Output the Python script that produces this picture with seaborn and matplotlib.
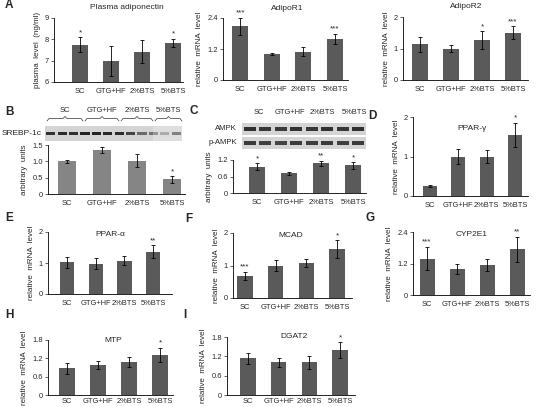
import numpy as np
import pandas as pd
import matplotlib
matplotlib.use("Agg")
import matplotlib.pyplot as plt
import seaborn as sns
from matplotlib.patches import Rectangle

groups = ["SC", "GTG+HF", "2%BTS", "5%BTS"]

adipo_mean = [7.75, 6.97, 7.42, 7.82]
adipo_err = [0.35, 0.70, 0.55, 0.20]
adipo_sig = ["*", "", "", "*"]

r1_mean = [2.08, 1.01, 1.10, 1.58]
r1_err = [0.32, 0.05, 0.18, 0.20]
r1_sig = ["***", "", "", "***"]

r2_mean = [1.13, 1.00, 1.26, 1.50]
r2_err = [0.23, 0.12, 0.28, 0.20]
r2_sig = ["", "", "*", "***"]

srebp_mean = [1.00, 1.35, 1.02, 0.45]
srebp_err = [0.04, 0.10, 0.20, 0.10]
srebp_sig = ["", "", "", "*"]

ampk_mean = [0.96, 0.72, 1.08, 1.00]
ampk_err = [0.13, 0.05, 0.10, 0.13]
ampk_sig = ["*", "", "**", "*"]

pparg_mean = [0.26, 1.00, 1.00, 1.54]
pparg_err = [0.03, 0.20, 0.17, 0.31]
pparg_sig = ["", "", "", "*"]

ppara_mean = [1.02, 0.98, 1.08, 1.37]
ppara_err = [0.18, 0.18, 0.15, 0.20]
ppara_sig = ["", "", "", "**"]

mcad_mean = [0.68, 1.00, 1.07, 1.50]
mcad_err = [0.13, 0.18, 0.12, 0.27]
mcad_sig = ["***", "", "", "*"]

cyp_mean = [1.39, 1.00, 1.14, 1.74]
cyp_err = [0.45, 0.20, 0.24, 0.47]
cyp_sig = ["***", "", "", "**"]

mtp_mean = [0.87, 0.98, 1.07, 1.32]
mtp_err = [0.17, 0.13, 0.16, 0.23]
mtp_sig = ["", "", "", "*"]

dgat_mean = [1.14, 1.01, 1.01, 1.39]
dgat_err = [0.17, 0.14, 0.20, 0.25]
dgat_sig = ["", "", "", "*"]

srebp_bands = [0.85, 0.88, 0.85, 0.92, 0.92, 0.90, 0.88, 0.75, 0.55, 0.50, 0.35, 0.65]
ampk_bands = [0.85, 0.82, 0.80, 0.85, 0.82, 0.85, 0.82, 0.85]
pampk_bands = [0.80, 0.78, 0.75, 0.80, 0.78, 0.80, 0.78, 0.80]

sns.set_theme(style="ticks")
plt.rcParams["font.family"] = ["Liberation Sans", "DejaVu Sans"]

W, H = 542, 407
fig = plt.figure(figsize=(W / 100, H / 100), dpi=100)
DARK = "#5a5a5a"
LIGHT = "#858585"


def px_axes(x0, y0, x1, y1):
    return fig.add_axes([x0 / W, 1 - y1 / H, (x1 - x0) / W, (y1 - y0) / H])


def bar_panel(geom, means, errs, sig, ylim, yticks, yticklabels, ylabel,
              title=None, title_y=None, color=DARK, xpad=4):
    xa, c0, c3, xr, ytop, ybot = geom
    s = (c3 - c0) / 3
    ax = px_axes(xa, ytop, xr, ybot)
    df = pd.DataFrame({"group": groups, "value": means})
    sns.barplot(data=df, x="group", y="value", ax=ax, color=color,
                saturation=1, width=0.5, errorbar=None, edgecolor="none")
    ax.errorbar(range(4), means, yerr=errs, fmt="none", ecolor="black",
                elinewidth=0.6, capsize=1.5, capthick=0.6, clip_on=False)
    off = 0.02 * (ylim[1] - ylim[0])
    for i, (m, e, t) in enumerate(zip(means, errs, sig)):
        if t:
            ax.text(i, m + e + off, t, ha="center", va="bottom",
                    fontsize=5.8, clip_on=False)
    ax.set_xlim((xa - c0) / s, (xr - c0) / s)
    ax.set_ylim(*ylim)
    ax.set_yticks(yticks)
    ax.set_yticklabels(yticklabels)
    ax.set_xlabel("")
    ax.set_ylabel(ylabel, fontsize=5.8, labelpad=3)
    ax.set_facecolor("none")
    sns.despine(ax=ax)
    for sp in ("left", "bottom"):
        ax.spines[sp].set_linewidth(0.6)
        ax.spines[sp].set_color("black")
    ax.tick_params(axis="x", length=0, labelsize=5.4, pad=xpad)
    ax.tick_params(axis="y", length=2, width=0.5, labelsize=5.4, pad=1.5)
    if title:
        yt = (ylim[1] - ylim[0]) * title_y + ylim[0]
        ax.text(1.5, yt, title, ha="center", va="center", fontsize=6,
                clip_on=False)
    return ax


rel = "relative  mRNA  level"

bar_panel((54, 80, 173, 183, 18, 82), adipo_mean, adipo_err, adipo_sig,
          (6, 9), [6, 7, 8, 9], ["6", "7", "8", "9"], "plasma  level  (ng/ml)",
          "Plasma adiponectin", 1.16)
bar_panel((223, 240, 335, 348, 18, 80), r1_mean, r1_err, r1_sig,
          (0, 2.4), [0, 1.2, 2.4], ["0", "1.2", "2.4"], rel, "AdipoR1", 1.16)
bar_panel((403, 420, 513, 528, 17, 80), r2_mean, r2_err, r2_sig,
          (0, 2), [0, 1, 2], ["0", "1", "2"], rel, "AdipoR2", 1.16)
bar_panel((48, 67, 172, 185, 145, 194), srebp_mean, srebp_err, srebp_sig,
          (0, 1.5), [0, 0.5, 1.0, 1.5], ["0", "0.5", "1.0", "1.5"],
          "arbitrary  units", color=LIGHT)
bar_panel((233, 257, 353, 366, 160, 193), ampk_mean, ampk_err, ampk_sig,
          (0, 1.2), [0, 0.6, 1.2], ["0", "0.6", "1.2"], "arbitrary  units")
bar_panel((413, 430, 515, 528, 117, 196), pparg_mean, pparg_err, pparg_sig,
          (0, 2), [0, 1, 2], ["0", "1", "2"], rel, "PPAR-γ", 0.86)
bar_panel((48, 67, 153, 172, 232, 294), ppara_mean, ppara_err, ppara_sig,
          (0, 2), [0, 1, 2], ["0", "1", "2"], rel, "PPAR-α", 0.96)
bar_panel((233, 245, 337, 352, 233, 298), mcad_mean, mcad_err, mcad_sig,
          (0, 2), [0, 1, 2], ["0", "1", "2"], rel, "MCAD", 0.96)
bar_panel((413, 427, 517, 530, 232, 295), cyp_mean, cyp_err, cyp_sig,
          (0, 2.4), [0, 1.2, 2.4], ["0", "1.2", "2.4"], rel, "CYP2E1", 0.96)
bar_panel((48, 67, 160, 173, 340, 395), mtp_mean, mtp_err, mtp_sig,
          (0, 1.8), [0, 0.6, 1.2, 1.8], ["0", "0.6", "1.2", "1.8"], rel,
          "MTP", 1.0, xpad=2)
bar_panel((227, 248, 340, 355, 337, 395), dgat_mean, dgat_err, dgat_sig,
          (0, 1.8), [0, 0.6, 1.2, 1.8], ["0", "0.6", "1.2", "1.8"], rel,
          "DGAT2", 1.0, xpad=2)

# overlay in pixel coordinates for blots, letters and brackets
ov = fig.add_axes([0, 0, 1, 1])
ov.set_xlim(0, W)
ov.set_ylim(H, 0)
ov.axis("off")
ov.set_facecolor("none")


def blot(x0, x1, y0, y1, bands):
    ov.add_patch(Rectangle((x0, y0), x1 - x0, y1 - y0, facecolor="#d4d4d4",
                           edgecolor="none"))
    n = len(bands)
    lw = (x1 - x0) / n
    yc = (y0 + y1) / 2
    for i, b in enumerate(bands):
        ov.add_patch(Rectangle((x0 + i * lw + lw * 0.1, yc - 1.6), lw * 0.8,
                               3.2, facecolor=(0.08, 0.08, 0.08, b),
                               edgecolor="none"))


blot(45, 182, 126, 141, srebp_bands)
ov.add_patch(Rectangle((153, 126), 29, 15, facecolor="white", alpha=0.25,
                       edgecolor="none"))
ov.text(2, 133.5, "SREBP-1c", fontsize=6, va="center")

blot(242, 366, 123, 135, ampk_bands)
blot(242, 366, 137, 149, pampk_bands)
ov.text(237, 129, "AMPK", fontsize=5.6, va="center", ha="right")
ov.text(237, 143, "p-AMPK", fontsize=5.6, va="center", ha="right")

# group brackets for B
for (a, b), g in zip([(47, 83), (85, 119), (121, 153), (155, 182)], groups):
    m = (a + b) / 2
    ov.plot([a, a + 2, m - 2, m, m + 2, b - 2, b],
            [121, 118.5, 118.5, 116.5, 118.5, 118.5, 121],
            color="#333333", lw=0.5)
    ov.text(m, 111, g, fontsize=5.4, ha="center", va="center")

for x, g in zip([259, 290, 322, 354], groups):
    ov.text(x, 113, g, fontsize=5.4, ha="center", va="center")

letters = [("A", 5, 5), ("B", 5, 112), ("C", 190, 111), ("D", 368, 116),
           ("E", 5, 218), ("F", 185, 219), ("G", 366, 218), ("H", 5, 315),
           ("I", 183, 315)]
for t, x, y in letters:
    ov.text(x, y, t, fontsize=8.5, fontweight="bold", va="center")

fig.savefig("out.png", dpi=100)
